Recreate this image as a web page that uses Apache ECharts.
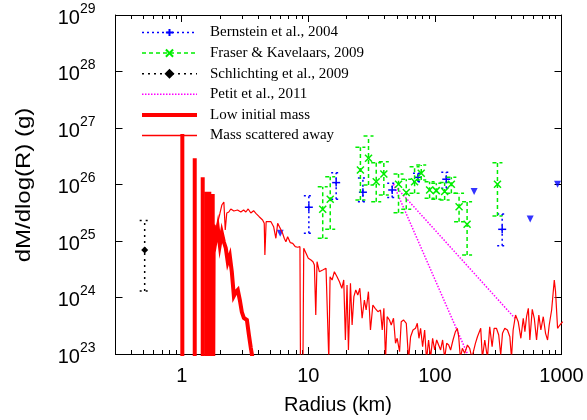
<!DOCTYPE html>
<html>
<head>
<meta charset="utf-8">
<script src="https://cdn.jsdelivr.net/npm/echarts@6/dist/echarts.min.js"></script>
<style>
  html, body { margin: 0; padding: 0; background: #fff; }
  #chart { width: 587px; height: 420px; }
</style>
</head>
<body>
<div id="chart"></div>
<script>
// ---- Observations: radius (km), dM/dlog(R) (g) with lower / upper bounds ----
const bernsteinR  = [10.1, 16.6, 27.0, 46.0, 73.5, 123, 340];
const bernsteinM  = [3.96e25, 1.08e26, 7.3e25, 8.0e25, 1.34e26, 1.24e26, 1.61e25];
const bernsteinLo = [1.37e25, 5.5e25, 4.96e25, 5.9e25, 1.12e26, 8.6e25, 8.2e24];
const bernsteinHi = [6.3e25, 1.62e26, 1.30e26, 1.05e26, 1.58e26, 1.64e26, 3.0e25];
// upper limits (non-detections)
const bernsteinLimitR = [6.0, 204, 566, 931];
const bernsteinLimitM = [1.37e25, 7.5e25, 2.45e25, 1.01e26];

const fraserR  = [13.0, 14.9, 25.8, 29.9, 34.4, 39.5, 51.6, 59.4, 69.1, 78.0, 90.8, 102.6, 119.4, 134.9, 155.2, 179.6, 312];
const fraserM  = [3.64e25, 5.5e25, 1.81e26, 2.91e26, 1.12e26, 1.53e26, 1.01e26, 7.2e25, 1.12e26, 1.58e26, 8.0e25, 7.8e25, 7.5e25, 1.01e26, 4.05e25, 1.98e25, 1.01e26];
const fraserLo = [1.12e25, 1.61e25, 5.3e25, 9.8e25, 4.96e25, 6.5e25, 3.17e25, 3.64e25, 7.0e25, 1.20e26, 5.7e25, 5.5e25, 5.3e25, 7.0e25, 2.2e25, 5.65e24, 2.77e25];
const fraserHi = [9.1e25, 1.37e26, 4.56e26, 7.2e26, 2.43e26, 2.53e26, 1.53e26, 1.24e26, 2.07e26, 2.21e26, 1.12e26, 1.05e26, 1.08e26, 1.34e26, 7.0e25, 4.96e25, 2.43e26];

const schlichtingR  = [0.51];
const schlichtingM  = [6.9e24];
const schlichtingLo = [1.3e24];
const schlichtingHi = [2.3e25];

// Petit et al. 2011: two power-law branches from a common knee
const petitSteepR   = [46.9, 181];
const petitSteepM   = [1.02e26, 1.0e23];
const petitShallowR = [46.9, 428];
const petitShallowM = [1.02e26, 4.3e23];

// ---- Simulation output, stored as log10(R / km) and log10(M / g) ----
// Low initial mass: isolated populated bins near 1 km, then a falling tail
const lowMassSpikeLogR = [0.005, 0.103, 0.166, 0.198, 0.218, 0.245];
const lowMassSpikeLogM = [26.894, 26.464, 26.127, 25.873, 25.873, 25.83];
const lowMassTailLogR = [0.253, 0.269, 0.285, 0.301, 0.317, 0.333, 0.348, 0.364, 0.380, 0.396, 0.412, 0.428, 0.443, 0.459, 0.475, 0.491, 0.515, 0.531, 0.546, 0.562];
const lowMassTailLogM = [25.283, 25.018, 25.230, 24.929, 25.142, 24.982, 24.876, 24.628, 24.735, 24.451, 24.027, 24.097, 24.133, 23.956, 23.743, 23.637, 23.602, 23.336, 23.106, 22.894];

// Mass scattered away
const scatteredLogR = [0.249,0.277,0.301,0.317,0.333,0.344,0.356,0.372,0.388,0.412,0.441,0.467,0.489,0.507,0.525,0.546,0.568,0.586,0.612,0.639,0.652,0.657,0.667,0.679,0.705,0.726,0.744,0.758,0.778,0.797,0.810,0.823,0.837,0.858,0.877,0.897,0.916,0.934,0.938,0.958,0.964,0.982,1.000,1.021,1.037,1.048,1.059,1.069,1.087,1.114,1.140,1.154,1.162,1.172,1.188,1.206,1.227,1.246,1.265,1.280,1.293,1.306,1.317,1.333,
  1.346,1.360,1.375,1.391,1.407,1.425,1.443,1.457,1.475,1.491,1.510,1.528,1.550,1.570,1.584,1.597,1.610,1.623,1.641,1.655,1.673,1.689,1.702,1.721,1.734,1.752,1.774,1.792,1.808,1.827,1.847,1.861,1.874,1.887,1.903,1.919,1.934,1.950,1.966,1.982,1.998,2.014,2.029,2.045,2.061,2.077,2.093,2.109,2.124,2.143,2.162,2.177,2.188,2.201,2.217,2.235,2.257,2.275,2.292,2.320,2.336,2.362,2.375,2.394,2.415,2.433,2.452,2.468,2.486,2.504,2.520,2.534,2.552,2.573,2.592,2.605,2.618,2.637,2.658,2.679,2.698,2.711,2.724,2.738,2.750,2.769,2.785,2.803,2.821,2.837,2.856,2.874,2.890,2.903,2.922,2.943,2.953,2.969,2.987,3.009];
const scatteredLogM = [25.159,25.266,25.478,25.637,25.690,25.195,25.496,25.513,25.567,25.531,25.549,25.513,25.549,25.513,25.567,25.496,25.536,25.490,25.430,25.372,25.313,24.752,25.342,25.359,25.342,25.253,25.048,25.313,25.225,25.136,25.048,24.988,25.076,24.970,24.959,24.899,24.889,24.899,22.894,22.894,24.871,24.782,24.694,24.664,24.634,24.575,23.690,24.634,24.457,24.487,24.517,24.545,22.894,24.368,24.310,24.457,24.368,24.280,24.163,24.310,23.248,24.221,23.071,24.251,
  23.513,24.014,24.133,24.044,24.163,23.632,23.956,23.779,24.103,23.425,23.867,23.809,23.749,23.779,23.425,23.809,22.894,23.660,23.602,23.513,23.632,23.189,23.278,23.041,23.572,23.602,23.543,22.894,23.306,23.425,23.455,23.543,23.278,23.455,23.129,23.425,22.894,23.248,22.929,23.278,23.071,23.248,23.278,23.071,23.248,22.929,23.189,23.159,23.071,23.248,23.395,23.455,23.306,22.929,23.101,23.012,23.159,23.101,22.929,23.189,23.306,23.455,22.929,23.248,22.929,23.483,23.129,23.455,23.455,23.336,22.982,23.366,23.455,23.425,23.306,22.929,23.425,23.690,23.572,23.278,23.632,23.395,23.660,23.809,23.248,23.791,23.632,23.248,23.690,23.425,23.660,23.366,23.248,23.513,23.779,24.310,24.103,23.455,23.513,23.572];

// ---- Axis definitions (log10 space) ----
const xTickLabels = [1, 10, 100, 1000];
const X_MIN = Math.log10(0.3), X_MAX = 3;
const Y_MIN = 23, Y_MAX = 29;
const EMPTY_BIN = 20; // log mass used for empty bins (falls below the frame)

const lg = Math.log10;
const xMajor = xTickLabels.map(lg);
const xMinor = [];
for (let d = -1; d <= 2; d++) {
  for (let k = 2; k <= 9; k++) {
    const v = d + lg(k);
    if (v > X_MIN && v < X_MAX) xMinor.push(v);
  }
}

function bars(R, M, lo, hi) {
  return R.map((r, i) => [lg(r), lg(M[i]), lg(lo[i]), lg(hi[i])]);
}

const lowMassLine = [];
lowMassSpikeLogR.forEach((r, i) => {
  lowMassLine.push([r, EMPTY_BIN], [r, lowMassSpikeLogM[i]], [r, EMPTY_BIN]);
});
lowMassTailLogR.forEach((r, i) => lowMassLine.push([r, lowMassTailLogM[i]]));

const scatteredLine = scatteredLogR.map((r, i) => [r, scatteredLogM[i]]);

// ---- Error-bar renderer ----
const CAP = 5;
function markerPlus(c, color) {
  const s = 4;
  return [
    { type: 'line', shape: { x1: c[0] - s, y1: c[1], x2: c[0] + s, y2: c[1] }, style: { stroke: color, lineWidth: 1.5 } },
    { type: 'line', shape: { x1: c[0], y1: c[1] - s, x2: c[0], y2: c[1] + s }, style: { stroke: color, lineWidth: 1.5 } }
  ];
}
function markerCross(c, color) {
  const s = 3.5;
  return [
    { type: 'line', shape: { x1: c[0] - s, y1: c[1] - s, x2: c[0] + s, y2: c[1] + s }, style: { stroke: color, lineWidth: 1.5 } },
    { type: 'line', shape: { x1: c[0] - s, y1: c[1] + s, x2: c[0] + s, y2: c[1] - s }, style: { stroke: color, lineWidth: 1.5 } }
  ];
}
function markerDiamond(c, color) {
  const s = 3.5;
  return [
    { type: 'polygon', shape: { points: [[c[0], c[1] - s], [c[0] + s, c[1]], [c[0], c[1] + s], [c[0] - s, c[1]]] }, style: { fill: color } }
  ];
}
function errorBarSeries(name, data, color, dash, marker) {
  const st = { stroke: color, lineWidth: 1.5, lineDash: dash };
  return {
    type: 'custom',
    name: name,
    data: data,
    encode: { x: 0, y: 1 },
    z: 3,
    renderItem: function (params, api) {
      const x = api.value(0);
      const c = api.coord([x, api.value(1)]);
      const cl = api.coord([x, api.value(2)]);
      const ch = api.coord([x, api.value(3)]);
      const children = [
        { type: 'line', shape: { x1: cl[0], y1: cl[1], x2: ch[0], y2: ch[1] }, style: st },
        { type: 'line', shape: { x1: cl[0] - CAP, y1: cl[1], x2: cl[0] + CAP, y2: cl[1] }, style: st },
        { type: 'line', shape: { x1: ch[0] - CAP, y1: ch[1], x2: ch[0] + CAP, y2: ch[1] }, style: st }
      ].concat(marker(c, color));
      return { type: 'group', children: children };
    }
  };
}

// Legend carriers (line series without data)
function legendCarrier(name, color, dash, width, symbol) {
  return {
    type: 'line', name: name, data: [], color: color,
    lineStyle: { color: color, width: width, type: dash },
    itemStyle: { color: color, borderColor: color, borderWidth: 1.5 },
    symbol: symbol || 'none', symbolSize: 7
  };
}

const BLUE = '#0000ff', GREEN = '#00ee00', BLACK = '#000000', MAGENTA = '#ff00ff', RED = '#ff0000';
const names = ['Bernstein et al., 2004', 'Fraser & Kavelaars, 2009', 'Schlichting et al., 2009', 'Petit et al., 2011', 'Low initial mass', 'Mass scattered away'];
const legendColors = [BLUE, GREEN, BLACK, MAGENTA, RED, RED];
const legendDashes = [[2, 3], [4, 3], [2, 4], [1.5, 1.5], 'solid', 'solid'];
const legendWidths = [1.5, 1.5, 1.5, 1.5, 4, 1.5];
const legendItems = names.map((n, i) => {
  const item = { name: n, lineStyle: { color: legendColors[i], width: legendWidths[i], type: legendDashes[i] } };
  if (i >= 3) item.itemStyle = { opacity: 0 };
  return item;
});

const axisFont = 'Liberation Sans, Arial, sans-serif';
const chart = echarts.init(document.getElementById('chart'));

const xAxisBase = {
  type: 'value', min: X_MIN, max: X_MAX, gridIndex: 0,
  axisLine: { show: true, onZero: false, lineStyle: { color: '#000', width: 1 } },
  splitLine: { show: false }
};

chart.setOption({
  animation: false,
  backgroundColor: '#fff',
  grid: { left: 115.5, right: 25.5, top: 15, bottom: 66 },
  legend: {
    orient: 'vertical', left: 135, top: 20,
    itemWidth: 55, itemHeight: 9, itemGap: 5.6,
    data: legendItems,
    selectedMode: false,
    textStyle: { fontFamily: 'Liberation Serif, Times New Roman, serif', fontSize: 15, color: '#000', padding: [0, 0, 0, 8] }
  },
  xAxis: [
    Object.assign({}, xAxisBase, {
      position: 'bottom',
      axisTick: { show: true, inside: true, length: 7, customValues: xMajor, lineStyle: { color: '#000' } },
      axisLabel: {
        show: true, customValues: xMajor, margin: 12,
        fontFamily: axisFont, fontSize: 20, color: '#000',
        formatter: v => String(Math.round(Math.pow(10, v)))
      }
    }),
    Object.assign({}, xAxisBase, {
      position: 'bottom',
      axisTick: { show: true, inside: true, length: 4, customValues: xMinor, lineStyle: { color: '#000' } },
      axisLabel: { show: false }
    }),
    Object.assign({}, xAxisBase, {
      position: 'top',
      axisTick: { show: true, inside: true, length: 7, customValues: xMajor, lineStyle: { color: '#000' } },
      axisLabel: { show: false }
    }),
    Object.assign({}, xAxisBase, {
      position: 'top',
      axisTick: { show: true, inside: true, length: 4, customValues: xMinor, lineStyle: { color: '#000' } },
      axisLabel: { show: false }
    })
  ],
  yAxis: [
    {
      type: 'value', min: Y_MIN, max: Y_MAX, interval: 1, position: 'left',
      axisLine: { show: true, onZero: false, lineStyle: { color: '#000', width: 1 } },
      axisTick: { show: true, inside: true, length: 7, lineStyle: { color: '#000' } },
      splitLine: { show: false },
      axisLabel: {
        margin: 20,
        formatter: v => '{b|10}{s|' + v + '}',
        rich: {
          b: { fontFamily: axisFont, fontSize: 20, color: '#000', lineHeight: 26, verticalAlign: 'bottom' },
          s: { fontFamily: axisFont, fontSize: 14, color: '#000', lineHeight: 26, verticalAlign: 'top' }
        }
      }
    },
    {
      type: 'value', min: Y_MIN, max: Y_MAX, interval: 1, position: 'right',
      axisLine: { show: true, onZero: false, lineStyle: { color: '#000', width: 1 } },
      axisTick: { show: true, inside: true, length: 7, lineStyle: { color: '#000' } },
      splitLine: { show: false },
      axisLabel: { show: false }
    }
  ],
  graphic: [
    {
      type: 'text', x: 24, y: 185, rotation: Math.PI / 2, scaleX: 1.2,
      style: { text: 'dM/dlog(R) (g)', font: '20px ' + axisFont, fill: '#000', align: 'center', verticalAlign: 'middle' }
    },
    {
      type: 'text', x: 338, y: 405,
      style: { text: 'Radius (km)', font: '20px ' + axisFont, fill: '#000', align: 'center', verticalAlign: 'middle' }
    }
  ],
  series: [
    legendCarrier(names[0], BLUE, [2, 3], 1.5, 'path://M0,-1L0,1M-1,0L1,0'),
    legendCarrier(names[1], GREEN, [4, 3], 1.5, 'path://M-1,-1L1,1M-1,1L1,-1'),
    legendCarrier(names[2], BLACK, [2, 4], 1.5, 'diamond'),
    legendCarrier(names[3], MAGENTA, [1.5, 1.5], 1.5),
    legendCarrier(names[4], RED, 'solid', 4),
    legendCarrier(names[5], RED, 'solid', 1.2),

    errorBarSeries(names[0], bars(bernsteinR, bernsteinM, bernsteinLo, bernsteinHi), BLUE, [2, 3], markerPlus),
    {
      type: 'scatter', name: 'upper limits',
      data: bernsteinLimitR.map((r, i) => [lg(r), lg(bernsteinLimitM[i])]),
      symbol: 'triangle', symbolRotate: 180, symbolSize: 7,
      itemStyle: { color: BLUE }, z: 3
    },
    errorBarSeries(names[1], bars(fraserR, fraserM, fraserLo, fraserHi), GREEN, [4, 3], markerCross),
    errorBarSeries(names[2], bars(schlichtingR, schlichtingM, schlichtingLo, schlichtingHi), BLACK, [2, 4], markerDiamond),
    {
      type: 'line', name: names[3], showSymbol: false, z: 2,
      data: petitSteepR.map((r, i) => [lg(r), lg(petitSteepM[i])]),
      lineStyle: { color: MAGENTA, width: 1.5, type: [1.5, 1.5] }
    },
    {
      type: 'line', name: names[3], showSymbol: false, z: 2,
      data: petitShallowR.map((r, i) => [lg(r), lg(petitShallowM[i])]),
      lineStyle: { color: MAGENTA, width: 1.5, type: [1.5, 1.5] }
    },
    {
      type: 'line', name: names[4], showSymbol: false, clip: true, z: 4,
      data: lowMassLine,
      lineStyle: { color: RED, width: 4, join: 'miter' }
    },
    {
      type: 'line', name: names[5], showSymbol: false, clip: true, z: 4,
      data: scatteredLine,
      lineStyle: { color: RED, width: 1.2 }
    }
  ]
});
</script>
</body>
</html>
